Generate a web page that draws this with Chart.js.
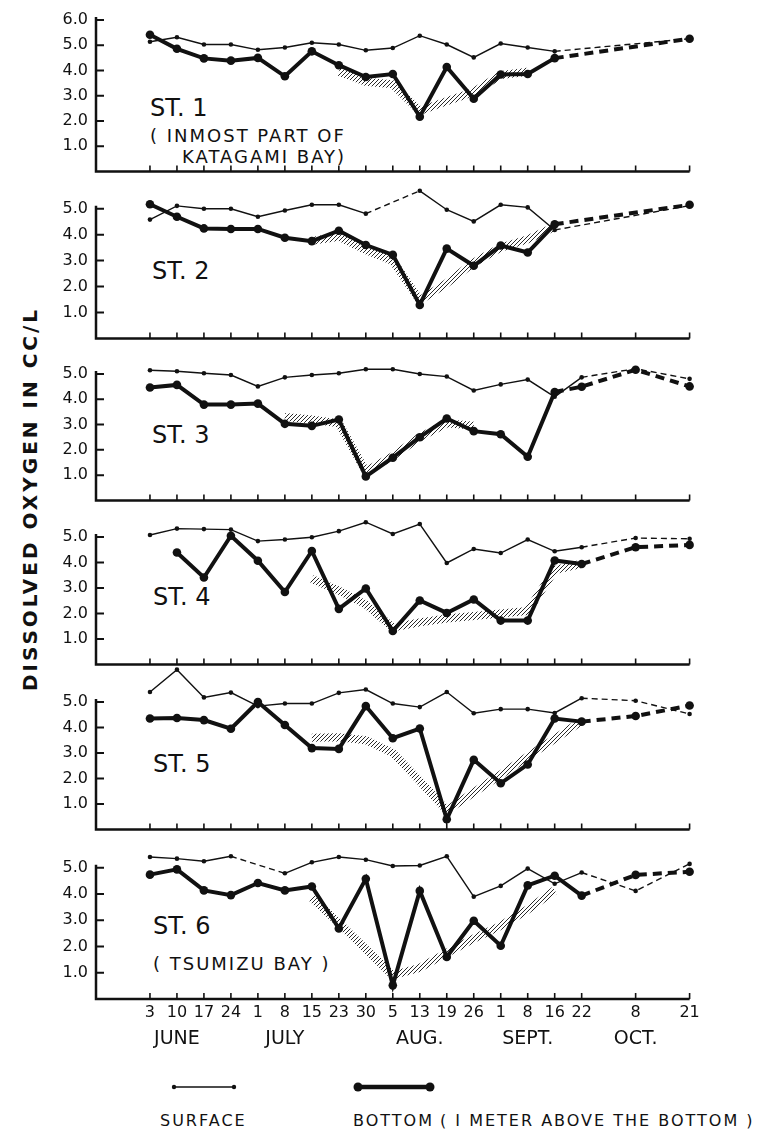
<!DOCTYPE html>
<html>
<head>
<meta charset="utf-8">
<title>Dissolved oxygen</title>
<script src="https://cdn.jsdelivr.net/npm/chart.js@4.4.0/dist/chart.umd.min.js"></script>
<style>
  body { margin: 0; background: #fff; }
  #wrap { position: relative; width: 763px; height: 1136px; overflow: hidden;
          font-family: 'DejaVu Sans', sans-serif; color: #111; }
  canvas.panel { position: absolute; left: 0; }
  .lbl { position: absolute; white-space: nowrap; line-height: 1; }
  .st { font-size: 24px; }
  .sub { font-size: 18px; letter-spacing: 2px; }
  .leg { font-size: 16px; letter-spacing: 2px; }
  #ytitle { position: absolute; left: 30px; top: 499px; white-space: nowrap;
            transform: translate(-50%, -50%) rotate(-90deg);
            font-size: 20px; letter-spacing: 3px; font-weight: bold; }
</style>
</head>
<body>
<div id="wrap">
  <div id="ytitle">DISSOLVED OXYGEN IN CC/L</div>

  <div class="lbl st" style="left:150px;top:96px">ST. 1</div>
  <div class="lbl sub" style="left:150px;top:127px">( INMOST PART OF</div>
  <div class="lbl sub" style="left:182px;top:148px">KATAGAMI BAY)</div>
  <div class="lbl st" style="left:152px;top:259px">ST. 2</div>
  <div class="lbl st" style="left:152px;top:423px">ST. 3</div>
  <div class="lbl st" style="left:153px;top:585px">ST. 4</div>
  <div class="lbl st" style="left:153px;top:752px">ST. 5</div>
  <div class="lbl st" style="left:153px;top:914px">ST. 6</div>
  <div class="lbl sub" style="left:153px;top:955px">( TSUMIZU BAY )</div>

  <svg style="position:absolute;left:0;top:1070px" width="763" height="30">
    <line x1="174" y1="17" x2="234" y2="17" stroke="#111" stroke-width="1.5"/>
    <circle cx="174" cy="17" r="2.2" fill="#111"/>
    <circle cx="234" cy="17" r="2.2" fill="#111"/>
    <line x1="358" y1="17" x2="430" y2="17" stroke="#111" stroke-width="4.5"/>
    <circle cx="358" cy="17" r="4.5" fill="#111"/>
    <circle cx="430" cy="17" r="4.5" fill="#111"/>
  </svg>
  <div class="lbl leg" style="left:160px;top:1113px">SURFACE</div>
  <div class="lbl leg" style="left:353px;top:1113px">BOTTOM</div>
  <div class="lbl leg" style="left:440px;top:1113px">( I METER ABOVE THE BOTTOM )</div>
</div>

<script>
// sampling dates: slot on the x axis, day label, month label
var slots  = [0, 1, 2, 3, 4, 5, 6, 7, 8, 9, 10, 11, 12, 13, 14, 15, 16, 18, 20];
var days   = ['3', '10', '17', '24', '1', '8', '15', '23', '30', '5', '13', '19', '26', '1', '8', '16', '22', '8', '21'];
var months = ['', 'JUNE', '', '', '', 'JULY', '', '', '', '', 'AUG.', '', '', '', 'SEPT.', '', '', 'OCT.', ''];

// dissolved oxygen cc/l, one value per date (null = not sampled)
var st1Surface = [5.14, 5.32, 5.03, 5.03, 4.82, 4.91, 5.10, 5.03, 4.80, 4.89, 5.38, 5.03, 4.52, 5.07, 4.91, 4.76, null, null, 5.26];
var st1Bottom  = [5.42, 4.86, 4.48, 4.39, 4.50, 3.77, 4.76, 4.21, 3.74, 3.86, 2.17, 4.14, 2.88, 3.84, 3.86, 4.49, null, null, 5.26];
var st1Trend   = [null, null, null, null, null, null, null, 3.95, 3.55, 3.45, 2.40, 2.78, 3.15, 3.82, 3.95, null, null, null, null];

var st2Surface = [4.58, 5.11, 5.00, 5.00, 4.69, 4.93, 5.15, 5.15, 4.81, null, 5.69, 4.96, 4.51, 5.15, 5.05, 4.18, null, null, 5.12];
var st2Bottom  = [5.17, 4.69, 4.24, 4.22, 4.22, 3.88, 3.75, 4.15, 3.60, 3.22, 1.29, 3.46, 2.80, 3.58, 3.31, 4.40, null, null, 5.15];
var st2Trend   = [null, null, null, null, null, null, 3.76, 3.92, 3.40, 2.98, 1.47, 2.13, 2.92, 3.50, 3.82, 4.30, null, null, null];

var st3Surface = [5.15, 5.11, 5.03, 4.96, 4.51, 4.87, 4.96, 5.03, 5.19, 5.19, 5.00, 4.90, 4.35, 4.59, 4.78, 4.10, 4.87, 5.21, 4.81];
var st3Bottom  = [4.47, 4.57, 3.79, 3.79, 3.83, 3.03, 2.95, 3.20, 0.95, 1.69, 2.50, 3.24, 2.74, 2.62, 1.73, 4.29, 4.50, 5.17, 4.51];
var st3Trend   = [null, null, null, null, null, 3.30, 3.20, 3.05, 1.15, 1.75, 2.50, 3.05, 2.95, null, null, null, null, null, null];

var st4Surface = [5.08, 5.33, 5.31, 5.29, 4.84, 4.90, 4.99, 5.23, 5.58, 5.12, 5.51, 3.98, 4.53, 4.37, 4.90, 4.44, 4.60, 4.96, 4.93];
var st4Bottom  = [null, 4.39, 3.41, 5.05, 4.07, 2.84, 4.45, 2.18, 2.98, 1.31, 2.51, 2.02, 2.55, 1.72, 1.72, 4.08, 3.94, 4.60, 4.69];
var st4Trend   = [null, null, null, null, null, null, 3.35, 2.90, 2.35, 1.45, 1.65, 1.80, 1.90, 2.00, 2.10, 3.70, 3.95, null, null];

var st5Surface = [5.39, 6.27, 5.18, 5.37, 4.84, 4.94, 4.94, 5.36, 5.49, 4.94, 4.80, 5.39, 4.56, 4.72, 4.72, 4.57, 5.15, 5.05, 4.53];
var st5Bottom  = [4.35, 4.37, 4.29, 3.95, 5.00, 4.10, 3.19, 3.16, 4.84, 3.58, 3.96, 0.40, 2.73, 1.81, 2.55, 4.35, 4.23, 4.45, 4.86];
var st5Trend   = [null, null, null, null, null, null, 3.60, 3.62, 3.50, 3.00, 1.90, 0.75, 1.45, 2.15, 2.86, 3.55, 4.25, null, null];

var st6Surface = [5.41, 5.35, 5.25, 5.44, null, 4.79, 5.21, 5.41, 5.31, 5.07, 5.09, 5.44, 3.90, 4.31, 4.97, 4.39, 4.82, 4.12, 5.15];
var st6Bottom  = [4.74, 4.94, 4.14, 3.96, 4.42, 4.14, 4.29, 2.69, 4.58, 0.52, 4.12, 1.60, 2.98, 2.03, 4.33, 4.70, 3.94, 4.73, 4.85];
var st6Trend   = [null, null, null, null, null, null, 3.85, 2.90, 1.90, 0.90, 1.19, 1.75, 2.30, 2.79, 3.41, 4.14, null, null, null];

// where bottom line turns dashed (slot), beyond gaps which are always dashed
var bottomDashFrom = [99, 99, 15, 99, 99, 99];

// layout of the six stacked panels
var panelBase = [177, 344, 506, 670, 835, 999];
var panelUnit = [26.95, 27.66, 27.0, 27.2, 27.2, 27.1];
var PAD_TOP = 12, PAD_BOTTOM = 12, DAY_H = 26, MONTH_H = 34;
var X_MIN = -2, X_MAX = 20;

var ink = '#111';

function hatchPattern() {
	var c = document.createElement('canvas');
	c.width = 4; c.height = 4;
	var g = c.getContext('2d');
	g.strokeStyle = '#2a2a2a';
	g.lineWidth = 1;
	g.beginPath();
	g.moveTo(0, 4); g.lineTo(4, 0);
	g.moveTo(-1, 1); g.lineTo(1, -1);
	g.moveTo(3, 5); g.lineTo(5, 3);
	g.stroke();
	return g.createPattern(c, 'repeat');
}

function pts(vals) {
	var out = [];
	vals.forEach(function (v, k) { if (v != null) out.push({x: slots[k], y: v}); });
	return out;
}

// draws the L-shaped axes with inward ticks
var framePlugin = {
	id: 'frame',
	beforeDatasetsDraw: function (chart, args, opts) {
		var ctx = chart.ctx, xs = chart.scales.x, ys = chart.scales.y;
		var x0 = xs.getPixelForValue(X_MIN), x1 = xs.getPixelForValue(X_MAX);
		var yb = ys.getPixelForValue(0), yt = ys.getPixelForValue(opts.top);
		ctx.save();
		ctx.strokeStyle = ink;
		ctx.lineWidth = 2.5;
		ctx.beginPath();
		ctx.moveTo(x0, yt - 3); ctx.lineTo(x0, yb); ctx.lineTo(x1, yb);
		ctx.stroke();
		ctx.lineWidth = 2;
		ctx.beginPath();
		for (var v = 1; v <= opts.top; v++) {
			var py = ys.getPixelForValue(v);
			ctx.moveTo(x0, py); ctx.lineTo(x0 + 8, py);
		}
		ctx.stroke();
		ctx.lineWidth = 1.6;
		ctx.beginPath();
		slots.forEach(function (s) {
			var px = xs.getPixelForValue(s);
			ctx.moveTo(px, yb); ctx.lineTo(px, yb - 6);
		});
		ctx.stroke();
		ctx.restore();
	}
};

function makePanel(n, surface, bottom, trend) {
	var i = n - 1;
	var last = n === 6;
	var base = panelBase[i], unit = panelUnit[i];
	var canvasTop = Math.round(base - unit * 6.5 - PAD_TOP);
	var below = last ? DAY_H + MONTH_H : PAD_BOTTOM;
	var height = base + below - canvasTop;
	var yMax = (base - canvasTop - PAD_TOP) / unit;
	var topTick = n === 1 ? 6 : 5;

	var cv = document.createElement('canvas');
	cv.className = 'panel';
	cv.width = 763; cv.height = height;
	cv.style.top = canvasTop + 'px';
	document.getElementById('wrap').appendChild(cv);

	var dashFrom = bottomDashFrom[i];
	function gap(ctx) { return ctx.p1.parsed.x - ctx.p0.parsed.x > 1; }

	var scales = {
		x: {
			type: 'linear', min: X_MIN, max: X_MAX,
			display: last,
			afterBuildTicks: function (s) { s.ticks = slots.map(function (v) { return {value: v}; }); },
			afterFit: function (s) { s.height = last ? DAY_H : 0; },
			grid: {display: false, drawTicks: false},
			border: {display: false},
			ticks: {
				padding: 2, color: ink, maxRotation: 0, autoSkip: false,
				font: {family: 'DejaVu Sans', size: 16, lineHeight: 1.5},
				callback: function (v) {
					var k = slots.indexOf(v);
					return k < 0 ? '' : days[k];
				}
			}
		},
		y: {
			type: 'linear', min: 0, max: yMax,
			afterBuildTicks: function (s) {
				var t = [];
				for (var v = 1; v <= topTick; v++) t.push({value: v});
				s.ticks = t;
			},
			afterFit: function (s) { s.width = 96; },
			grid: {display: false, drawTicks: false},
			border: {display: false},
			ticks: {
				padding: 8, color: ink,
				font: {family: 'DejaVu Sans', size: 16},
				callback: function (v) { return v.toFixed(1); }
			}
		}
	};
	if (last) {
		scales.month = {
			type: 'linear', position: 'bottom', min: X_MIN, max: X_MAX,
			afterBuildTicks: function (s) {
				var t = [];
				months.forEach(function (m, k) { if (m) t.push({value: slots[k]}); });
				s.ticks = t;
			},
			afterFit: function (s) { s.height = MONTH_H; },
			grid: {display: false, drawTicks: false},
			border: {display: false},
			ticks: {
				padding: 2, color: ink, maxRotation: 0, autoSkip: false,
				font: {family: 'DejaVu Sans', size: 19, lineHeight: 1.3},
				callback: function (v) {
					var k = slots.indexOf(v);
					return k < 0 ? '' : months[k];
				}
			}
		};
	}

	return new Chart(cv.getContext('2d'), {
		type: 'line',
		data: {
			datasets: [{
				label: 'Bottom',
				data: pts(bottom),
				borderColor: ink, backgroundColor: ink,
				borderWidth: 4, pointRadius: 4.3, pointBorderWidth: 0,
				clip: false, order: 1,
				segment: {borderDash: function (ctx) { return gap(ctx) || ctx.p0.parsed.x >= dashFrom ? [9, 6] : undefined; }}
			}, {
				label: 'Surface',
				data: pts(surface),
				borderColor: ink, backgroundColor: ink,
				borderWidth: 1.4, pointRadius: 2.3, pointBorderWidth: 0,
				clip: false, order: 2,
				segment: {borderDash: function (ctx) { return gap(ctx) ? [6, 4] : undefined; }}
			}, {
				label: 'Trend',
				data: pts(trend),
				borderColor: hatchPattern(),
				borderWidth: 8, pointRadius: 0,
				borderCapStyle: 'butt',
				clip: false, order: 3
			}]
		},
		options: {
			responsive: false,
			animation: false,
			events: [],
			layout: {padding: {top: PAD_TOP, bottom: last ? 0 : PAD_BOTTOM, left: 0, right: 763 - 689.6}},
			scales: scales,
			plugins: {
				legend: {display: false},
				tooltip: {enabled: false},
				frame: {top: topTick}
			}
		},
		plugins: [framePlugin]
	});
}

makePanel(1, st1Surface, st1Bottom, st1Trend);
makePanel(2, st2Surface, st2Bottom, st2Trend);
makePanel(3, st3Surface, st3Bottom, st3Trend);
makePanel(4, st4Surface, st4Bottom, st4Trend);
makePanel(5, st5Surface, st5Bottom, st5Trend);
makePanel(6, st6Surface, st6Bottom, st6Trend);
</script>
</body>
</html>
